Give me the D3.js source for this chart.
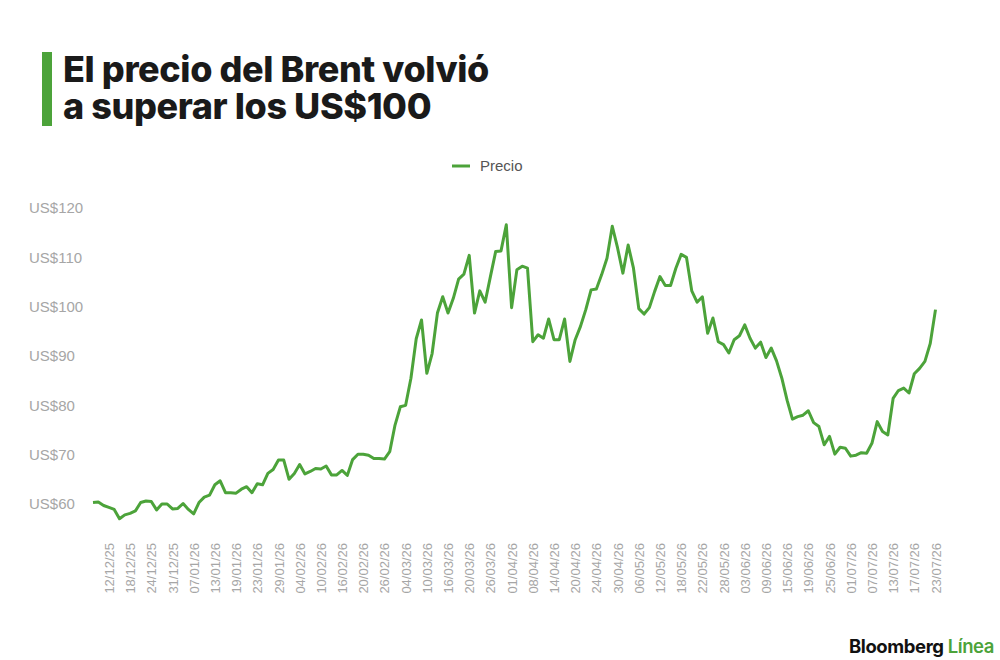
<!DOCTYPE html>
<html>
<head>
<meta charset="utf-8">
<script src="https://cdn.jsdelivr.net/npm/d3@7"></script>
<style>
  body { margin: 0; background: #fff; }
  svg { display: block; }
  .title {
    font-family: Inter, "Liberation Sans", sans-serif;
    font-weight: 800;
    font-size: 36px;
    line-height: 37px;
    letter-spacing: -0.4px;
    color: #1a1a1a;
    margin: 0;
    white-space: nowrap;
  }
</style>
</head>
<body>
<div id="chart"></div>
<script>
// Precio del Brent, un punto por sesión (09/12/25 - 23/07/26)
const prices = [
  60.3, 60.4, 59.7, 59.3, 58.9, 57.0, 57.8, 58.1, 58.6, 60.3,
  60.6, 60.5, 58.8, 60.0, 60.0, 59.0, 59.1, 60.1, 58.9, 58.0,
  60.3, 61.4, 61.8, 63.9, 64.7, 62.3, 62.3, 62.2, 63.0, 63.5,
  62.3, 64.1, 63.9, 66.2, 67.0, 68.9, 68.9, 65.0, 66.2, 68.0,
  66.1, 66.6, 67.2, 67.1, 67.7, 65.9, 65.9, 66.8, 65.8, 69.0,
  70.1, 70.1, 69.9, 69.2, 69.2, 69.1, 70.6, 76.0, 79.7, 80.0,
  85.5, 93.5, 97.3, 86.5, 90.5, 98.7, 102.0, 98.7, 101.7, 105.6,
  106.6, 110.4, 98.7, 103.2, 100.9, 106.1, 111.2, 111.3, 116.6, 99.8,
  107.5, 108.2, 107.8, 92.9, 94.3, 93.6, 97.5, 93.3, 93.3, 97.5,
  88.9, 93.3, 96.0, 99.4, 103.4, 103.6, 106.5, 109.8, 116.3, 111.9,
  106.8, 112.5, 107.8, 99.6, 98.5, 99.8, 103.1, 106.1, 104.3, 104.3,
  107.8, 110.6, 110.0, 103.2, 100.9, 102.0, 94.6, 97.7, 92.9, 92.3,
  90.6, 93.3, 94.1, 96.3, 93.6, 91.6, 92.8, 89.7, 91.6, 89.0,
  85.5, 81.0, 77.2, 77.7, 78.0, 78.9, 76.5, 75.7, 72.0, 73.7,
  70.1, 71.5, 71.3, 69.7, 69.9, 70.4, 70.3, 72.3, 76.7, 74.7,
  74.0, 81.4, 83.0, 83.5, 82.5, 86.4, 87.5, 88.9, 92.5, 99.4
];

// etiquetas del eje x: una cada 4 sesiones, la primera en la sesión 4
const dateLabels = [
  "12/12/25", "18/12/25", "24/12/25", "31/12/25", "07/01/26", "13/01/26",
  "19/01/26", "23/01/26", "29/01/26", "04/02/26", "10/02/26", "16/02/26",
  "20/02/26", "26/02/26", "04/03/26", "10/03/26", "16/03/26", "20/03/26",
  "26/03/26", "01/04/26", "08/04/26", "14/04/26", "20/04/26", "24/04/26",
  "30/04/26", "06/05/26", "12/05/26", "18/05/26", "22/05/26", "28/05/26",
  "03/06/26", "09/06/26", "15/06/26", "19/06/26", "25/06/26", "01/07/26",
  "07/07/26", "13/07/26", "17/07/26", "23/07/26"
];
const firstLabelAt = 3;
const labelStep = 4;

const yTicks = [60, 70, 80, 90, 100, 110, 120];

const title = ["El precio del Brent volvió", "a superar los US$100"];
const seriesName = "Precio";

const green = "#4ca33a";
const grey = "#a6a6a6";

const width = 1000, height = 660;

const svg = d3.select("#chart").append("svg")
  .attr("width", width)
  .attr("height", height);

// titulo con barra verde
svg.append("rect")
  .attr("x", 42).attr("y", 52)
  .attr("width", 10).attr("height", 74)
  .attr("fill", green);

// un solo bloque de texto para las dos lineas del titulo
const titleBox = svg.append("foreignObject")
  .attr("x", 63).attr("y", 51)
  .attr("width", 600).attr("height", 80)
  .append("xhtml:div")
  .attr("class", "title");
titleBox.html(title.join("<br>"));

// leyenda
const legend = svg.append("g").attr("transform", "translate(452,166)");
legend.append("line")
  .attr("x1", 0).attr("x2", 18)
  .attr("stroke", green)
  .attr("stroke-width", 3);
legend.append("text")
  .attr("x", 28).attr("dy", "0.35em")
  .attr("font-family", "'Liberation Sans', Arial, sans-serif")
  .attr("font-size", 15)
  .attr("fill", "#555")
  .text(seriesName);

const x = d3.scaleLinear()
  .domain([0, prices.length - 1])
  .range([93, 935.5]);

const y = d3.scaleLinear()
  .domain([60, 120])
  .range([504, 208]);

// eje y: solo etiquetas, alineadas a la izquierda
const yAxis = svg.append("g")
  .attr("transform", "translate(29,0)")
  .call(d3.axisRight(y).tickValues(yTicks).tickSize(0).tickPadding(0)
    .tickFormat(d => "US$" + d));
yAxis.select(".domain").remove();
yAxis.selectAll("text")
  .attr("font-family", "'Liberation Sans', Arial, sans-serif")
  .attr("font-size", 15)
  .attr("fill", grey);

// eje x: fechas verticales
const tickIdx = dateLabels.map((d, i) => firstLabelAt + i * labelStep);
const xAxis = svg.append("g")
  .attr("transform", "translate(0,540)")
  .call(d3.axisBottom(x).tickValues(tickIdx).tickSize(0).tickPadding(0)
    .tickFormat((d, i) => dateLabels[i]));
xAxis.select(".domain").remove();
xAxis.selectAll("text")
  .attr("font-family", "'Liberation Sans', Arial, sans-serif")
  .attr("font-size", 13)
  .attr("fill", grey)
  .attr("text-anchor", "end")
  .attr("transform", "rotate(-90)")
  .attr("x", -3)
  .attr("y", 0)
  .attr("dy", "0.35em");

// linea de precio
const line = d3.line()
  .x((d, i) => x(i))
  .y(d => y(d));

svg.append("path")
  .datum(prices)
  .attr("fill", "none")
  .attr("stroke", green)
  .attr("stroke-width", 3)
  .attr("stroke-linejoin", "round")
  .attr("d", line);

// firma
const brand = svg.append("text")
  .attr("x", 994).attr("y", 653)
  .attr("text-anchor", "end")
  .attr("font-family", "Inter, 'Liberation Sans', sans-serif")
  .attr("font-weight", 700)
  .attr("font-size", 18.5)
  .attr("letter-spacing", -0.4);
brand.append("tspan").attr("fill", "#111").text("Bloomberg ");
brand.append("tspan").attr("fill", green).attr("font-weight", 600).text("Línea");
</script>
</body>
</html>
